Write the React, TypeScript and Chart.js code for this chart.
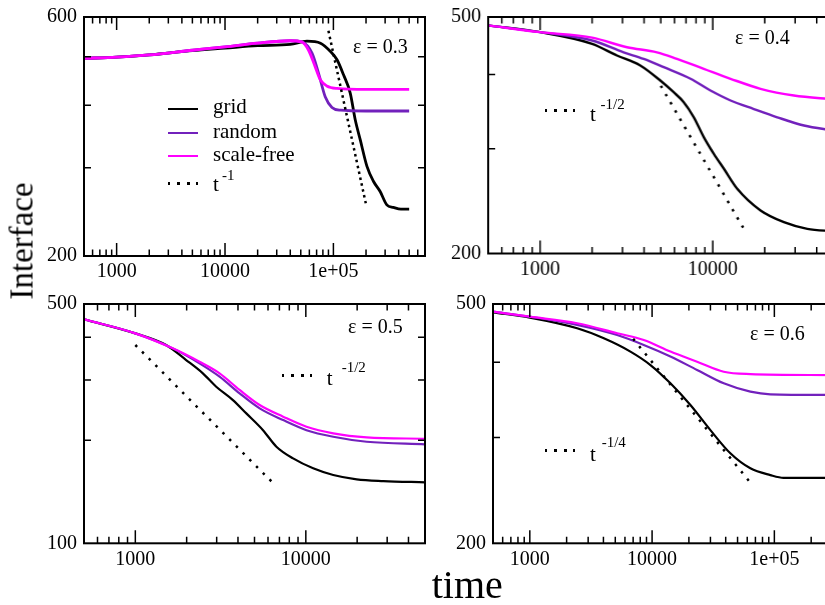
import React, { useEffect, useRef } from "react";
import { Chart, registerables } from "chart.js";

Chart.register(...registerables);

const FONT = "'Liberation Serif', 'Times New Roman', Times, serif";
const BLACK = "#000000";
const INDIGO = "#7221bc";
const MAGENTA = "#ff00ff";

// shared x tick labels
const xTickValues = [1000, 10000, 100000];
const xTickLabels = ["1000", "10000", "1e+05"];

// ---------- ε = 0.3 ----------
const e03GridT = [500, 1000, 2000, 5000, 10000, 20000, 40000, 57000, 76000, 94000, 108000, 124000, 143000, 159000, 177000, 204000, 234000, 270000, 311000, 358000, 420000, 500000];
const e03Grid = [496, 499, 504, 514, 520, 526, 529, 537, 532, 512, 493, 460, 423, 374, 341, 302, 282, 269, 253, 250, 248, 248];
const e03RandT = [500, 1000, 2000, 5000, 10000, 20000, 40000, 51000, 63500, 73000, 84000, 97000, 116000, 200000, 500000];
const e03Rand = [496, 499, 504, 515, 523, 532, 538, 535, 508, 463, 416, 396, 391, 389.5, 389.5];
const e03SfT = [500, 1000, 2000, 5000, 10000, 20000, 40000, 51000, 59000, 68000, 76000, 87000, 108000, 200000, 500000];
const e03Sf = [496, 499, 504, 515, 523, 532, 538, 535, 515, 477, 449, 437, 432, 430, 430];
const e03FitT = [90000, 200000];
const e03Fit = [563, 253.5];
const e03YRange = [200, 600];
const e03YTicks = [300, 400, 500];

// ---------- ε = 0.4 ----------
const e04GridT = [500, 1000, 2000, 2786, 3800, 4966, 5937, 6792, 7766, 8870, 10140, 11600, 13860, 18920, 25840, 35300, 50000];
const e04Grid = [484, 471.5, 450.6, 430.7, 414.4, 391, 373.6, 359.5, 339, 314, 294.3, 277.7, 257, 236.3, 225.8, 220, 218];
const e04RandT = [500, 1000, 2000, 3045, 3980, 5200, 7430, 9700, 12680, 17300, 23640, 33760, 50000];
const e04Rand = [484, 471.5, 456.5, 436, 425, 411.6, 393.6, 376, 361.8, 350, 339, 328.4, 322];
const e04SfT = [500, 1000, 2000, 3185, 4750, 6207, 8870, 12680, 18920, 29500, 50000];
const e04Sf = [484, 471.5, 461.5, 444.7, 436, 425, 409, 393.6, 378.6, 368.8, 363.5];
const e04FitT = [5000, 15000];
const e04Fit = [383, 221];
const e04YRange = [200, 500];
const e04YTicks = [300, 400];

// ---------- ε = 0.5 ----------
const e05GridT = [500, 1000, 1515, 1986, 2489, 2982, 3737, 4477, 5610, 6722, 8420, 11040, 14480, 19880, 28500, 50000];
const e05Grid = [451, 410.4, 379.5, 343, 313.6, 286.7, 262, 239.6, 214, 191.5, 177, 165.6, 158.3, 153.8, 152, 150.7];
const e05RandT = [500, 1000, 1658, 2378, 3119, 4090, 5360, 7357, 10090, 14480, 22750, 50000];
const e05Rand = [451, 410.4, 371, 335.4, 306.7, 274, 247.8, 229, 214, 204.8, 198, 194.6];
const e05SfT = [500, 1000, 1658, 2378, 3119, 4090, 5360, 7357, 10090, 14480, 22750, 50000];
const e05Sf = [451, 410.4, 371, 339, 313.6, 280.5, 253.5, 234.4, 219, 209.5, 203.9, 202];
const e05FitT = [1000, 6600];
const e05Fit = [379.5, 148];
const e05YRange = [100, 500];
const e05YTicks = [200, 300, 400];

// ---------- ε = 0.6 ----------
const e06GridT = [500, 1000, 2438, 4030, 6650, 9700, 14130, 20580, 29980, 43660, 63640, 92700, 119000, 300000];
const e06Grid = [484.4, 474.6, 455.6, 438.5, 416.7, 395.8, 369, 339.6, 308.5, 282.3, 266.5, 259.7, 257, 257];
const e06RandT = [500, 1000, 2438, 5180, 8550, 14130, 23330, 38540, 63640, 92700, 300000];
const e06Rand = [485.5, 476.3, 461.6, 444, 427.5, 409, 388.4, 369, 357.4, 353.8, 353];
const e06SfT = [500, 1000, 2438, 5180, 8550, 14130, 23330, 38540, 63640, 300000];
const e06Sf = [485.5, 476.3, 464.4, 447, 435.6, 416.7, 400.8, 385.7, 382.3, 380.8];
const e06FitT = [7000, 66000];
const e06Fit = [437.6, 250];
const e06YRange = [200, 500];
const e06YTicks = [300, 400];

interface Series {
  t: number[];
  v: number[];
  color: string;
  width: number;
  dash?: number[];
}

interface PanelSpec {
  left: number;
  top: number;
  width: number;
  height: number;
  xMin: number;
  xMax: number;
  yRange: number[];
  yTicks: number[];
  series: Series[];
}

const Y_AXIS_W = 60;
const X_AXIS_H = 40;
const PAD_TOP = 20;
const PAD_RIGHT = 8;

function makeSeries(gridT: number[], grid: number[], randT: number[], rand: number[], sfT: number[], sf: number[], fitT: number[], fit: number[], fitDash: number[], lw: number): Series[] {
  return [
    { t: fitT, v: fit, color: BLACK, width: 2.5, dash: fitDash },
    { t: sfT, v: sf, color: MAGENTA, width: lw },
    { t: randT, v: rand, color: INDIGO, width: lw },
    { t: gridT, v: grid, color: BLACK, width: lw },
  ];
}

function panelBox(L: number, T: number, R: number, B: number) {
  return {
    left: L - Y_AXIS_W,
    top: T - PAD_TOP,
    width: R - L + Y_AXIS_W + PAD_RIGHT,
    height: B - T + PAD_TOP + X_AXIS_H,
  };
}

const panels: PanelSpec[] = [
  {
    ...panelBox(84, 17, 425, 256),
    xMin: 500,
    xMax: 700000,
    yRange: e03YRange,
    yTicks: e03YTicks,
    series: makeSeries(e03GridT, e03Grid, e03RandT, e03Rand, e03SfT, e03Sf, e03FitT, e03Fit, [2.5, 3.5], 2.8),
  },
  {
    ...panelBox(488.3, 16.5, 832.7, 253),
    xMin: 500,
    xMax: 50000,
    yRange: e04YRange,
    yTicks: e04YTicks,
    series: makeSeries(e04GridT, e04Grid, e04RandT, e04Rand, e04SfT, e04Sf, e04FitT, e04Fit, [2.5, 7], 2.4),
  },
  {
    ...panelBox(84, 304, 425, 543.3),
    xMin: 500,
    xMax: 50000,
    yRange: e05YRange,
    yTicks: e05YTicks,
    series: makeSeries(e05GridT, e05Grid, e05RandT, e05Rand, e05SfT, e05Sf, e05FitT, e05Fit, [2.5, 7], 2.2),
  },
  {
    ...panelBox(492.7, 304, 832.4, 543.3),
    xMin: 500,
    xMax: 300000,
    yRange: e06YRange,
    yTicks: e06YTicks,
    series: makeSeries(e06GridT, e06Grid, e06RandT, e06Rand, e06SfT, e06Sf, e06FitT, e06Fit, [2.5, 7], 2.2),
  },
];

function makeFramePlugin(spec: PanelSpec) {
  return {
    id: "frameTicks",
    afterDatasetsDraw(chart: any) {
      const { ctx, chartArea: a } = chart;
      const xs = chart.scales.x;
      const ys = chart.scales.y;
      ctx.save();
      ctx.strokeStyle = "#000";
      ctx.lineWidth = 1.5;
      ctx.beginPath();
      for (let d = 100; d <= 1000000; d *= 10) {
        for (let k = 1; k <= 9; k++) {
          const v = k * d;
          if (v <= spec.xMin || v >= spec.xMax) continue;
          const len = k === 1 ? 13 : 6.5;
          const px = xs.getPixelForValue(v);
          ctx.moveTo(px, a.bottom);
          ctx.lineTo(px, a.bottom - len);
          ctx.moveTo(px, a.top);
          ctx.lineTo(px, a.top + len);
        }
      }
      for (const v of spec.yTicks) {
        const py = ys.getPixelForValue(v);
        ctx.moveTo(a.left, py);
        ctx.lineTo(a.left + 7, py);
        ctx.moveTo(a.right, py);
        ctx.lineTo(a.right - 7, py);
      }
      ctx.stroke();
      ctx.lineWidth = 2;
      ctx.strokeRect(a.left, a.top, a.right - a.left, a.bottom - a.top);
      ctx.restore();
    },
  };
}

function Panel({ spec }: { spec: PanelSpec }) {
  const ref = useRef<HTMLCanvasElement>(null);
  useEffect(() => {
    if (!ref.current) return;
    const chart = new Chart(ref.current, {
      type: "line",
      data: {
        datasets: spec.series.map((s) => ({
          data: s.t.map((t, i) => ({ x: t, y: s.v[i] })),
          borderColor: s.color,
          backgroundColor: s.color,
          borderWidth: s.width,
          borderDash: s.dash || [],
          borderCapStyle: "butt" as const,
          pointRadius: 0,
          fill: false,
          cubicInterpolationMode: s.dash ? ("default" as const) : ("monotone" as const),
          tension: s.dash ? 0 : 0.4,
        })),
      },
      options: {
        animation: false,
        responsive: true,
        maintainAspectRatio: false,
        layout: { padding: { top: PAD_TOP, right: PAD_RIGHT, left: 0, bottom: 0 } },
        plugins: { legend: { display: false }, tooltip: { enabled: false } },
        events: [],
        scales: {
          x: {
            type: "logarithmic",
            min: spec.xMin,
            max: spec.xMax,
            afterBuildTicks: (s: any) => {
              s.ticks = xTickValues.filter((v) => v > spec.xMin && v < spec.xMax).map((v) => ({ value: v }));
            },
            afterFit: (s: any) => {
              s.height = X_AXIS_H;
            },
            ticks: {
              autoSkip: false,
              maxRotation: 0,
              padding: 4,
              color: "#000",
              font: { family: FONT, size: 20 },
              callback: (v: any) => {
                const i = xTickValues.indexOf(Number(v));
                return i >= 0 ? xTickLabels[i] : "";
              },
            },
            grid: { display: false, drawTicks: false },
            border: { display: false },
          },
          y: {
            type: "logarithmic",
            min: spec.yRange[0],
            max: spec.yRange[1],
            afterBuildTicks: (s: any) => {
              s.ticks = spec.yRange.map((v) => ({ value: v }));
            },
            afterFit: (s: any) => {
              s.width = Y_AXIS_W;
            },
            ticks: {
              autoSkip: false,
              padding: 7,
              color: "#000",
              font: { family: FONT, size: 20 },
              callback: (v: any) => String(v),
            },
            grid: { display: false, drawTicks: false },
            border: { display: false },
          },
        },
      } as any,
      plugins: [makeFramePlugin(spec)],
    });
    return () => chart.destroy();
  }, [spec]);
  return (
    <div style={{ position: "absolute", left: spec.left, top: spec.top, width: spec.width, height: spec.height }}>
      <canvas ref={ref} />
    </div>
  );
}

function Txt({ x, base, size, children }: { x: number; base: number; size: number; children: React.ReactNode }) {
  return (
    <div
      style={{
        position: "absolute",
        left: x,
        top: base - 0.8375 * size,
        fontSize: size,
        lineHeight: 1,
        fontFamily: FONT,
        whiteSpace: "nowrap",
        color: "#000",
      }}
    >
      {children}
    </div>
  );
}

function Sample({ x1, x2, y, color, dotted }: { x1: number; x2: number; y: number; color: string; dotted?: boolean }) {
  const h = dotted ? 3 : 2;
  return (
    <div
      style={{
        position: "absolute",
        left: Math.round(x1),
        top: Math.round(y - h / 2),
        width: Math.round(x2 - x1),
        height: h,
        background: dotted
          ? `repeating-linear-gradient(to right, ${color} 0px, ${color} 2.5px, transparent 2.5px, transparent 9.5px)`
          : color,
      }}
    />
  );
}

export default function App() {
  return (
    <div
      style={{
        position: "absolute",
        left: 0,
        top: 0,
        width: 825,
        height: 605,
        overflow: "hidden",
        background: "#ffffff",
        fontFamily: FONT,
      }}
    >
      {panels.map((p, i) => (
        <Panel key={i} spec={p} />
      ))}

      {/* axis titles */}
      <div
        style={{
          position: "absolute",
          left: 22,
          top: 240.5,
          transform: "translate(-50%, -50%) rotate(-90deg)",
          fontSize: 33,
          lineHeight: 1,
          fontFamily: FONT,
          whiteSpace: "nowrap",
          color: "#000",
        }}
      >
        Interface
      </div>
      <Txt x={431.7} base={598} size={40}>time</Txt>

      {/* panel labels */}
      <Txt x={353} base={53} size={20}>ε = 0.3</Txt>
      <Txt x={735} base={43.5} size={20}>ε = 0.4</Txt>
      <Txt x={348} base={332.5} size={20}>ε = 0.5</Txt>
      <Txt x={750} base={340} size={20}>ε = 0.6</Txt>

      {/* legend (ε = 0.3 panel) */}
      <Sample x1={168} x2={198} y={108.5} color={BLACK} />
      <Txt x={213} base={114} size={21}>grid</Txt>
      <Sample x1={168} x2={198} y={132.5} color={INDIGO} />
      <Txt x={213} base={138.5} size={21}>random</Txt>
      <Sample x1={168} x2={198} y={155.5} color={MAGENTA} />
      <Txt x={213} base={161.5} size={21}>scale-free</Txt>
      <Sample x1={168} x2={198} y={183} color={BLACK} dotted />
      <Txt x={213} base={192} size={21}>t</Txt>
      <Txt x={222} base={181} size={15}>-1</Txt>

      {/* fit annotations */}
      <Sample x1={545} x2={575} y={110} color={BLACK} dotted />
      <Txt x={590} base={121.5} size={21}>t</Txt>
      <Txt x={600.5} base={110} size={15}>-1/2</Txt>

      <Sample x1={281.7} x2={311.7} y={375} color={BLACK} dotted />
      <Txt x={326.7} base={386} size={21}>t</Txt>
      <Txt x={341.7} base={373} size={15}>-1/2</Txt>

      <Sample x1={545} x2={575} y={450} color={BLACK} dotted />
      <Txt x={590} base={461.5} size={21}>t</Txt>
      <Txt x={601.7} base={448} size={15}>-1/4</Txt>
    </div>
  );
}
